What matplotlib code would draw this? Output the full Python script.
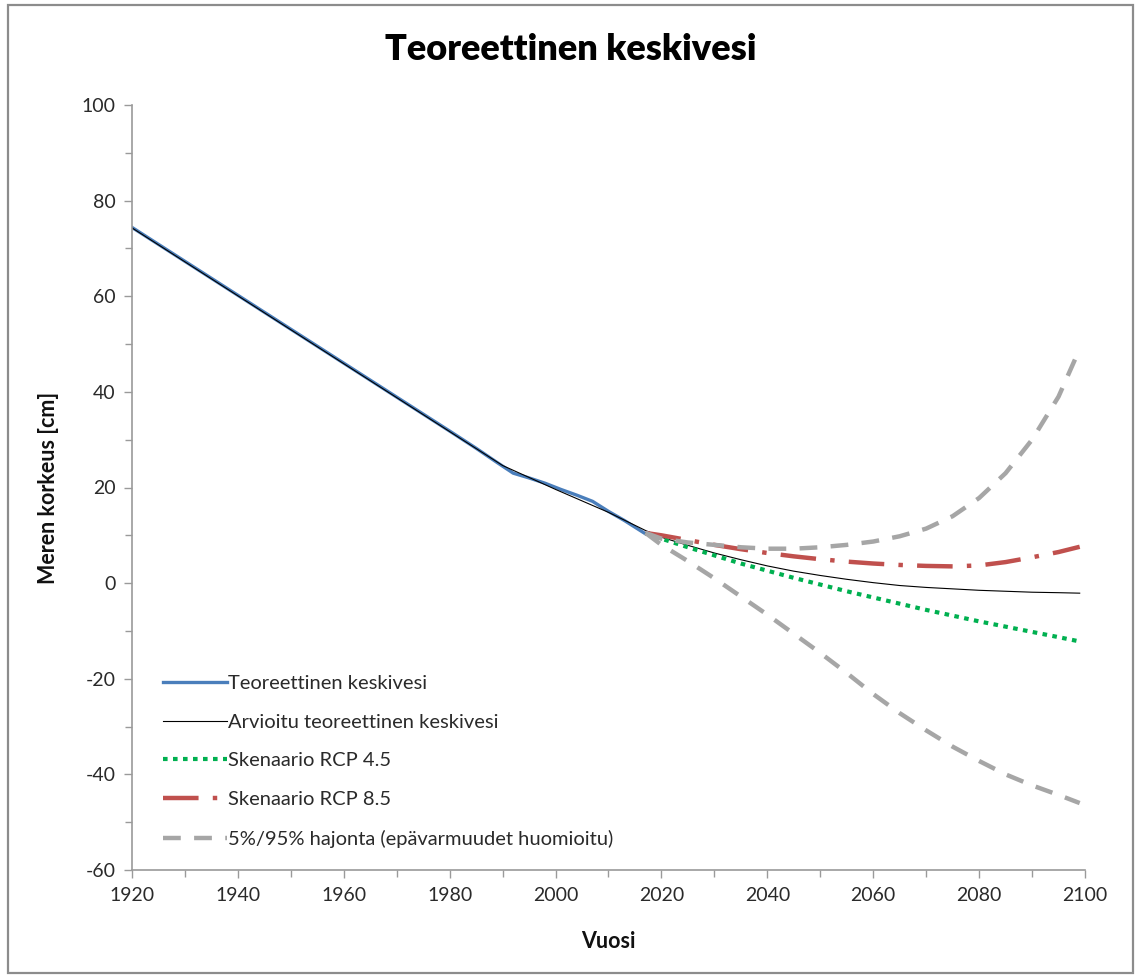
import matplotlib
matplotlib.use("Agg")
import matplotlib.pyplot as plt
from matplotlib.patches import Rectangle
from matplotlib.ticker import MultipleLocator

# Observed mean sea level (theoretical)
hist_years = [1920, 1930, 1940, 1950, 1960, 1970, 1980, 1985, 1989, 1992, 1995,
              1998, 2001, 2004, 2007, 2010, 2013, 2017]
hist_level = [74.4, 67.3, 60.2, 53.1, 46.0, 38.9, 31.8, 28.2, 25.2, 23.0, 22.0,
              20.9, 19.6, 18.4, 17.1, 15.0, 13.1, 10.3]

# Estimated theoretical mean sea level
est_years = [1920, 1940, 1960, 1980, 1990, 2000, 2010, 2017, 2020, 2025, 2030,
             2035, 2040, 2045, 2050, 2055, 2060, 2065, 2070, 2075, 2080, 2085,
             2090, 2095, 2099]
est_level = [74.3, 60.1, 45.9, 31.7, 24.6, 19.6, 14.8, 11.0, 9.6, 7.9, 6.3,
             4.9, 3.6, 2.5, 1.6, 0.8, 0.1, -0.5, -0.9, -1.2, -1.5, -1.7,
             -1.9, -2.0, -2.1]

# Scenario years
scen_years = [2017, 2020, 2025, 2030, 2035, 2040, 2045, 2050, 2055, 2060, 2065,
              2070, 2075, 2080, 2085, 2090, 2095, 2099]
rcp45 = [10.5, 9.3, 7.5, 5.8, 4.1, 2.6, 1.1, -0.3, -1.7, -3.0, -4.3,
         -5.6, -6.8, -8.0, -9.1, -10.2, -11.3, -12.2]
rcp85 = [10.5, 10.0, 9.0, 8.0, 7.1, 6.3, 5.6, 5.0, 4.5, 4.1, 3.8,
         3.6, 3.5, 3.7, 4.4, 5.4, 6.5, 7.6]
p95 = [10.5, 9.3, 8.5, 8.0, 7.5, 7.2, 7.2, 7.5, 8.0, 8.7, 9.8,
       11.4, 14.0, 17.8, 23.0, 30.0, 39.0, 49.0]
p5 = [10.5, 8.0, 4.6, 1.0, -2.8, -6.6, -10.6, -14.6, -18.8, -23.2, -27.2,
      -30.8, -34.2, -37.2, -40.0, -42.3, -44.3, -46.0]

labels = ["Teoreettinen keskivesi",
          "Arvioitu teoreettinen keskivesi",
          "Skenaario RCP 4.5",
          "Skenaario RCP 8.5",
          "5%/95% hajonta (epävarmuudet huomioitu)"]

plt.rcParams["font.family"] = ["Lato", "DejaVu Sans"]
plt.rcParams["axes.unicode_minus"] = False

W, H = 1141, 976
fig = plt.figure(figsize=(W / 100, H / 100), dpi=100)
ax = fig.add_axes([132 / W, 1 - 870 / H, (1085 - 132) / W, (870 - 105) / H])

blue = "#4a7ebb"
green = "#00b050"
red = "#c0504d"
gray = "#a6a6a6"

ax.plot(hist_years, hist_level, color=blue, lw=2.4, label=labels[0])
ax.plot(est_years, est_level, color="black", lw=0.8, label=labels[1])
ax.plot(scen_years, rcp45, color=green, lw=3.0, dashes=(1.1, 1.3),
        label=labels[2])
ax.plot(scen_years, rcp85, color=red, lw=3.2, dashes=(8, 3.2, 1, 3.2),
        label=labels[3])
ax.plot(scen_years, p95, color=gray, lw=3.2, dashes=(4, 3), label=labels[4])
ax.plot(scen_years, p5, color=gray, lw=3.2, dashes=(4, 3))

ax.set_xlim(1920, 2100)
ax.set_ylim(-60, 100)
ax.xaxis.set_major_locator(MultipleLocator(20))
ax.xaxis.set_minor_locator(MultipleLocator(10))
ax.yaxis.set_major_locator(MultipleLocator(20))
ax.yaxis.set_minor_locator(MultipleLocator(10))

spine_col = "#9a9a9a"
for side in ("top", "right"):
    ax.spines[side].set_visible(False)
for side in ("left", "bottom"):
    ax.spines[side].set_color(spine_col)
    ax.spines[side].set_linewidth(1.2)
ax.tick_params(which="both", direction="out", color=spine_col, width=1.0,
               labelcolor="#2a2a2a", labelsize=14)
ax.tick_params(which="major", length=6, pad=6)
ax.tick_params(which="minor", length=5)

ax.set_xlabel("Vuosi", fontsize=15.5, fontweight="bold", labelpad=20,
              color="#111111")
ax.set_ylabel("Meren korkeus [cm]", fontsize=15.5, fontweight="bold",
              labelpad=16, color="#111111")

fig.text(0.5, 1 - 50 / H, "Teoreettinen keskivesi", ha="center",
         va="center", fontsize=26, fontweight="heavy", color="black")

ax.legend(loc="upper left", bbox_to_anchor=(163 / W, 1 - 675 / H),
          bbox_transform=fig.transFigure, frameon=False, fontsize=14.5,
          handlelength=3.2, handletextpad=0.05, labelspacing=1.07,
          borderpad=0, borderaxespad=0, labelcolor="#2a2a2a")

fig.add_artist(Rectangle((8 / W, 3 / H), (1133 - 8) / W, (971 - 3) / H,
                         transform=fig.transFigure, fill=False,
                         edgecolor="#8c8c8c", lw=1.6))

fig.savefig("out.png", dpi=100)
